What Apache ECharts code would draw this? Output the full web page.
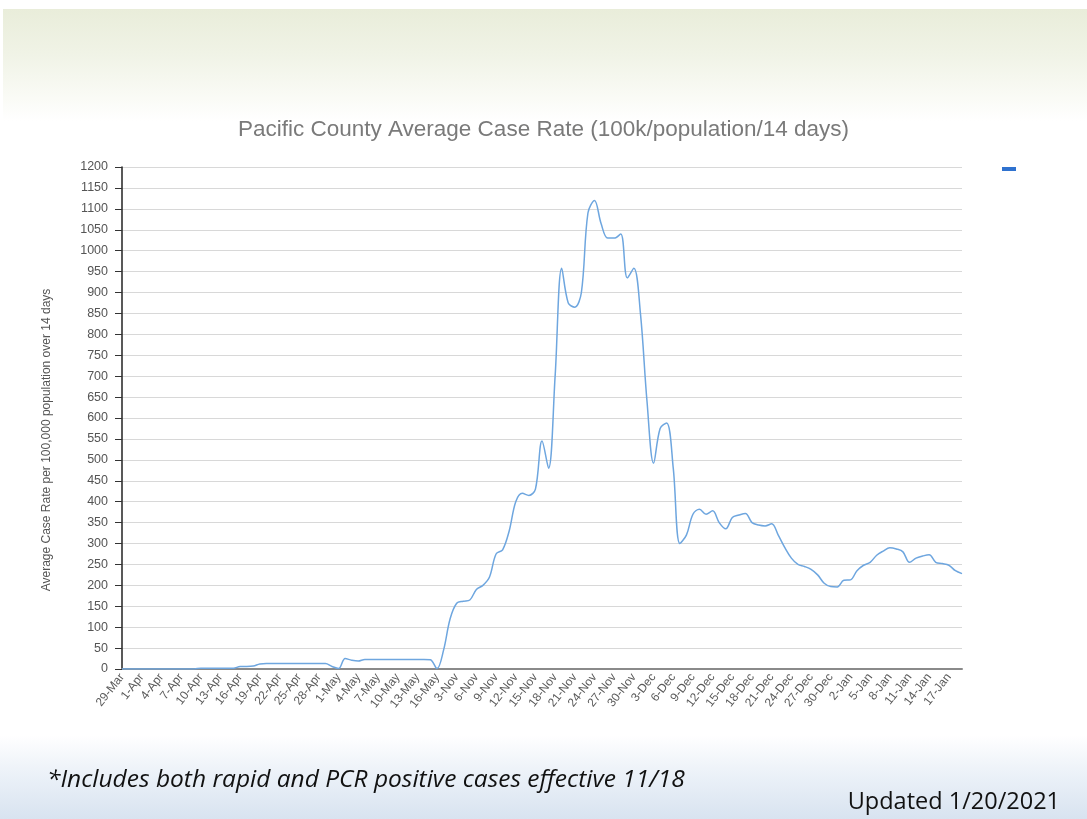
<!DOCTYPE html>
<html>
<head>
<meta charset="utf-8">
<script src="https://cdn.jsdelivr.net/npm/echarts@6/dist/echarts.min.js"></script>
<style>
  html, body { margin: 0; padding: 0; width: 1087px; height: 819px; overflow: hidden; background: #ffffff; }
  #topband { position: absolute; left: 3px; top: 9px; width: 1084px; height: 112px;
    background: linear-gradient(to bottom, #e9edda 0%, #f0f3e6 40%, #fafbf6 80%, #ffffff 100%); }
  #botband { position: absolute; left: 0; top: 735px; width: 1087px; height: 84px;
    background: linear-gradient(to bottom, #ffffff 0%, #eef3f9 40%, #d8e3f0 100%); }
  #chart { position: absolute; left: 0; top: 0; width: 1087px; height: 819px; }
</style>
</head>
<body>
<div id="topband"></div>
<div id="botband"></div>
<div id="chart"></div>
<script>
const chartTitle = 'Pacific County Average Case Rate (100k/population/14 days)';
const yAxisTitle = 'Average Case Rate per 100,000 population over 14 days';
const footnote = '*Includes both rapid and PCR positive cases effective 11/18';
const updated = 'Updated 1/20/2021';

const categories = [
  '29-Mar','30-Mar','31-Mar',
  '1-Apr','2-Apr','3-Apr','4-Apr','5-Apr','6-Apr','7-Apr','8-Apr','9-Apr','10-Apr',
  '11-Apr','12-Apr','13-Apr','14-Apr','15-Apr','16-Apr','17-Apr','18-Apr','19-Apr','20-Apr',
  '21-Apr','22-Apr','23-Apr','24-Apr','25-Apr','26-Apr','27-Apr','28-Apr','29-Apr','30-Apr',
  '1-May','2-May','3-May','4-May','5-May','6-May','7-May','8-May','9-May','10-May',
  '11-May','12-May','13-May','14-May','15-May','16-May',
  '1-Nov','2-Nov','3-Nov','4-Nov','5-Nov','6-Nov','7-Nov','8-Nov','9-Nov','10-Nov',
  '11-Nov','12-Nov','13-Nov','14-Nov','15-Nov','16-Nov','17-Nov','18-Nov','19-Nov','20-Nov',
  '21-Nov','22-Nov','23-Nov','24-Nov','25-Nov','26-Nov','27-Nov','28-Nov','29-Nov','30-Nov',
  '1-Dec','2-Dec','3-Dec','4-Dec','5-Dec','6-Dec','7-Dec','8-Dec','9-Dec','10-Dec',
  '11-Dec','12-Dec','13-Dec','14-Dec','15-Dec','16-Dec','17-Dec','18-Dec','19-Dec','20-Dec',
  '21-Dec','22-Dec','23-Dec','24-Dec','25-Dec','26-Dec','27-Dec','28-Dec','29-Dec','30-Dec','31-Dec',
  '1-Jan','2-Jan','3-Jan','4-Jan','5-Jan','6-Jan','7-Jan','8-Jan','9-Jan','10-Jan',
  '11-Jan','12-Jan','13-Jan','14-Jan','15-Jan','16-Jan','17-Jan','18-Jan','19-Jan'
];

const caseRate = [
  0,0,0,0,0,0,0,0,0,0,0,0,
  2,2,2,2,2,2,
  6,6,7,12,
  13,13,13,13,13,13,13,13,13,13,
  6,1,25,21,19,23,
  23,23,23,23,23,23,23,23,23,
  22,1,
  45,120,157,162,165,190,200,220,275,285,
  330,400,420,415,430,545,480,700,958,875,
  865,900,1090,1120,1065,1030,1030,1040,935,958,
  850,640,492,575,588,480,300,320,370,382,
  370,378,350,335,362,368,372,350,344,342,
  347,320,290,265,250,245,238,225,205,197,
  196,212,213,235,248,255,272,282,290,287,
  280,255,265,270,273,255,252,248,235,228
];

const yMin = 0, yMax = 1200, yStep = 50;

const chart = echarts.init(document.getElementById('chart'), null, { renderer: 'canvas' });
chart.setOption({
  backgroundColor: 'transparent',
  animation: false,
  title: {
    text: chartTitle,
    left: 'center',
    top: 113,
    textStyle: { fontFamily: 'Liberation Sans', fontSize: 22.5, fontWeight: 'normal', color: '#7a7a7a' }
  },
  legend: {
    left: 997,
    top: 162,
    icon: 'rect',
    itemWidth: 14,
    itemHeight: 4,
    textStyle: { fontSize: 1, color: 'transparent' },
    data: [{ name: ' ', itemStyle: { color: '#2f72cf' } }]
  },
  grid: { left: 122, right: 125, top: 167, bottom: 150, containLabel: false },
  xAxis: {
    type: 'category',
    data: categories,
    boundaryGap: false,
    axisLine: { lineStyle: { color: '#8a8a8a', width: 2 } },
    axisTick: { show: false },
    axisLabel: {
      interval: 2,
      rotate: 52,
      color: '#5a5a5a',
      fontFamily: 'Liberation Sans',
      fontSize: 12,
      margin: 6
    },
    splitLine: { show: false }
  },
  yAxis: {
    type: 'value',
    min: yMin,
    max: yMax,
    interval: yStep,
    axisLine: { show: true, lineStyle: { color: '#222', width: 1.5 } },
    axisTick: { show: true, length: 7, lineStyle: { color: '#333' } },
    axisLabel: {
      color: '#555', fontFamily: 'Liberation Sans', fontSize: 12.5, margin: 14,
      formatter: function (v) { return String(v); }
    },
    splitLine: { show: true, lineStyle: { color: '#d8d8d8', width: 1 } }
  },
  graphic: [
    {
      type: 'text',
      x: 47, y: 440,
      rotation: Math.PI / 2,
      style: {
        text: yAxisTitle,
        fill: '#555',
        font: '12px "Liberation Sans"',
        align: 'center',
        verticalAlign: 'middle'
      }
    },
    {
      type: 'text',
      x: 47, y: 780,
      style: {
        text: footnote,
        fill: '#111',
        font: 'italic 24.5px "Open Sans"',
        align: 'left',
        verticalAlign: 'middle'
      }
    },
    {
      type: 'text',
      x: 1060, y: 802,
      style: {
        text: updated,
        fill: '#111',
        font: '23.5px "Open Sans"',
        align: 'right',
        verticalAlign: 'middle'
      }
    }
  ],
  series: [{
    name: ' ',
    type: 'line',
    data: caseRate,
    smooth: 0.35,
    showSymbol: false,
    lineStyle: { color: '#6ea6df', width: 1.5 },
    itemStyle: { color: '#6ea6df' }
  }]
});
</script>
</body>
</html>
